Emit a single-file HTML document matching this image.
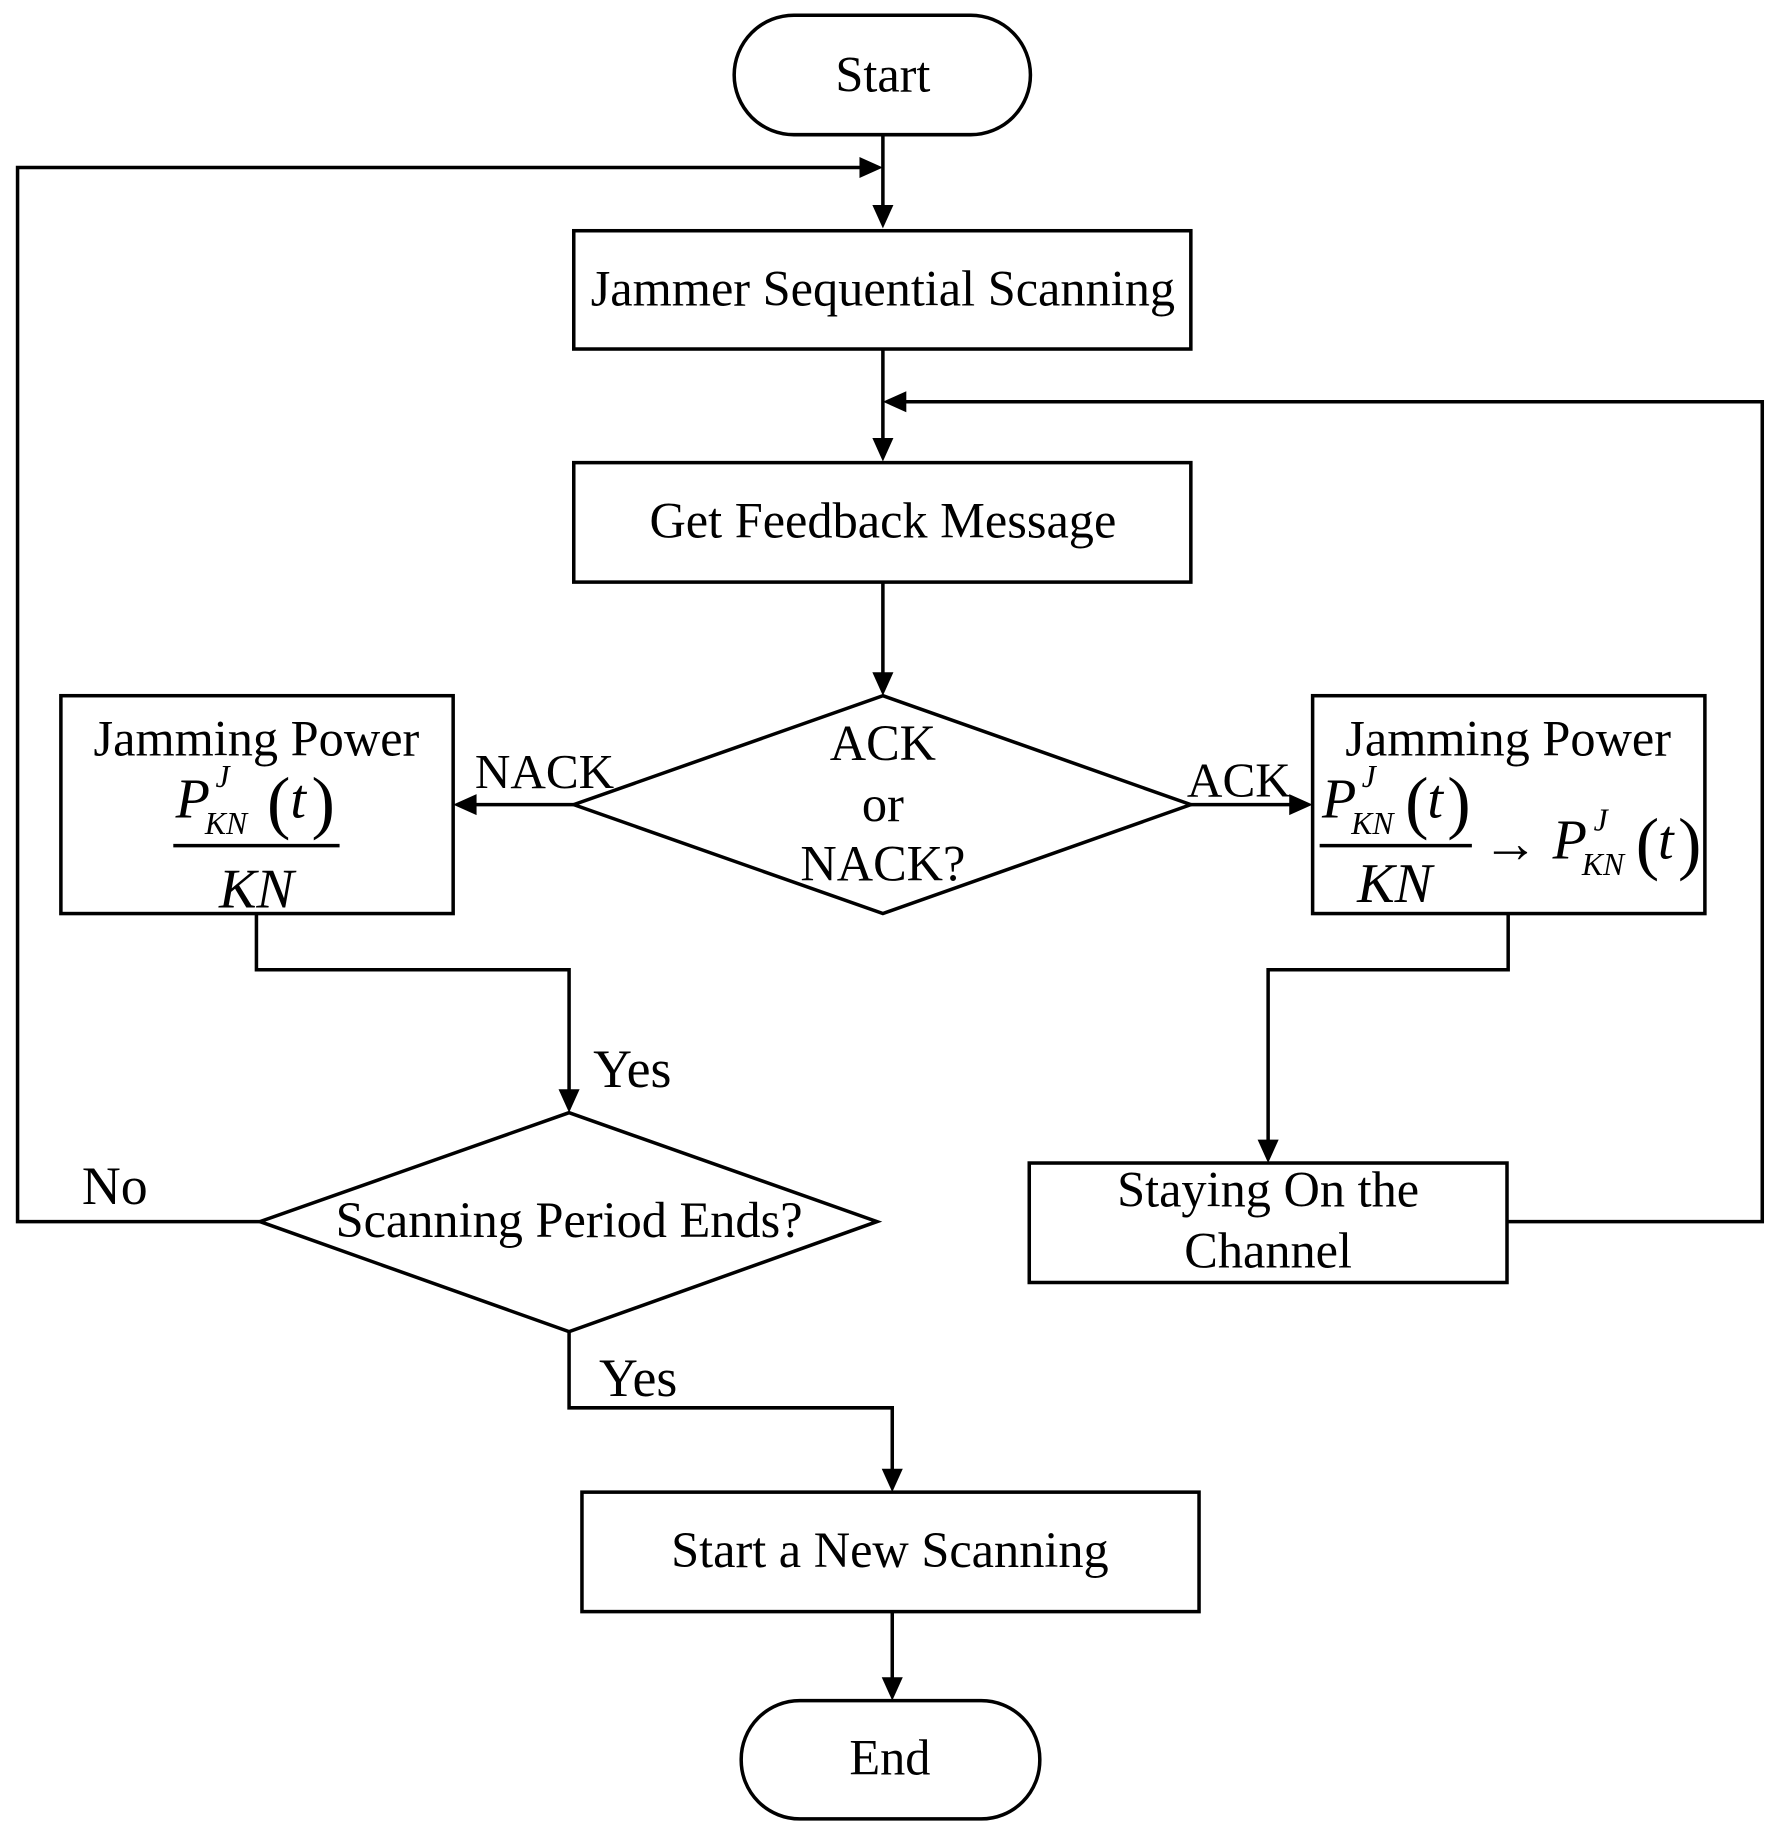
<!DOCTYPE html>
<html><head><meta charset="utf-8"><style>
html,body{margin:0;padding:0;background:#fff;}
svg{display:block;}
text{font-family:"Liberation Serif",serif;fill:#000;}
</style></head><body>
<svg width="1781" height="1840" viewBox="0 0 1521 1571" preserveAspectRatio="none" xmlns="http://www.w3.org/2000/svg">
<g fill="none" stroke="#000" stroke-width="3">
<rect x="627" y="13" width="253" height="102" rx="51"/>
<rect x="490" y="197" width="527" height="101"/>
<rect x="490" y="395" width="527" height="102"/>
<polygon points="754,594 1017,687 754,780 490,687"/>
<rect x="52" y="594" width="335" height="186"/>
<rect x="1121" y="594" width="335" height="186"/>
<polygon points="486,950 749,1043 486,1137 222,1043"/>
<rect x="879" y="993" width="408" height="102"/>
<rect x="497" y="1274" width="527" height="102"/>
<rect x="633" y="1452" width="255" height="101" rx="50"/>
<polyline points="754,115 754,180"/>
<polyline points="222,1043 15,1043 15,143 738,143"/>
<polyline points="754,298 754,380"/>
<polyline points="1287,1043 1505,1043 1505,343 770,343"/>
<polyline points="754,497 754,580"/>
<polyline points="490,687 402,687"/>
<polyline points="1017,687 1106,687"/>
<polyline points="219,780 219,828 486,828 486,935"/>
<polyline points="1288,780 1288,828 1083,828 1083,978"/>
<polyline points="486,1137 486,1202 762,1202 762,1259"/>
<polyline points="762,1376 762,1437"/>
<line x1="148" y1="722" x2="290" y2="722"/>
<line x1="1127" y1="722" x2="1257" y2="722"/>
</g>
<g fill="#000">
<polygon points="754,195 745,175 763,175"/>
<polygon points="754,143 734,134 734,152"/>
<polygon points="754,394 745,374 763,374"/>
<polygon points="754,343 774,334 774,352"/>
<polygon points="754,594 745,574 763,574"/>
<polygon points="387,687 407,678 407,696"/>
<polygon points="1121,687 1101,678 1101,696"/>
<polygon points="486,950 477,930 495,930"/>
<polygon points="1083,993 1074,973 1092,973"/>
<polygon points="762,1274 753,1254 771,1254"/>
<polygon points="762,1452 753,1432 771,1432"/>
</g>
<g font-size="43" text-anchor="middle">
<text x="754" y="78">Start</text>
<text x="754" y="261">Jammer Sequential Scanning</text>
<text x="754" y="459">Get Feedback Message</text>
<text x="754" y="649">ACK</text>
<text x="754" y="701">or</text>
<text x="754" y="752">NACK?</text>
<text x="465" y="673" font-size="42">NACK</text>
<text x="1058" y="680" font-size="42">ACK</text>
<text x="219" y="645">Jamming Power</text>
<text x="1288" y="645">Jamming Power</text>
<text x="486" y="1056">Scanning Period Ends?</text>
<text x="1083" y="1030">Staying On the</text>
<text x="1083" y="1082">Channel</text>
<text x="760" y="1338">Start a New Scanning</text>
<text x="760" y="1515">End</text>
<text x="540" y="928" font-size="46">Yes</text>
<text x="545" y="1192" font-size="46">Yes</text>
<text x="98" y="1028" font-size="46">No</text>
</g>
<g>
<text x="150" y="698" font-size="48" font-style="italic">P</text>
<text x="184" y="672" font-size="27" font-style="italic">J</text>
<text x="175" y="712" font-size="27" font-style="italic">KN</text>
<text x="228" y="705" font-size="60">(</text>
<text x="248" y="698" font-size="48" font-style="italic">t</text>
<text x="266" y="705" font-size="60">)</text>
<text x="219" y="775" font-size="48" font-style="italic" text-anchor="middle">KN</text>
</g>
<g>
<text x="1129" y="698" font-size="48" font-style="italic">P</text>
<text x="1163" y="672" font-size="27" font-style="italic">J</text>
<text x="1154" y="712" font-size="27" font-style="italic">KN</text>
<text x="1200" y="705" font-size="60">(</text>
<text x="1219" y="698" font-size="48" font-style="italic">t</text>
<text x="1236" y="705" font-size="60">)</text>
<text x="1191" y="770" font-size="48" font-style="italic" text-anchor="middle">KN</text>
<text x="1266" y="736" font-size="48">→</text>
<text x="1326" y="733" font-size="48" font-style="italic">P</text>
<text x="1361" y="709" font-size="27" font-style="italic">J</text>
<text x="1351" y="747" font-size="27" font-style="italic">KN</text>
<text x="1397" y="740" font-size="60">(</text>
<text x="1416" y="733" font-size="48" font-style="italic">t</text>
<text x="1433" y="740" font-size="60">)</text>
</g>
</svg>
</body></html>
